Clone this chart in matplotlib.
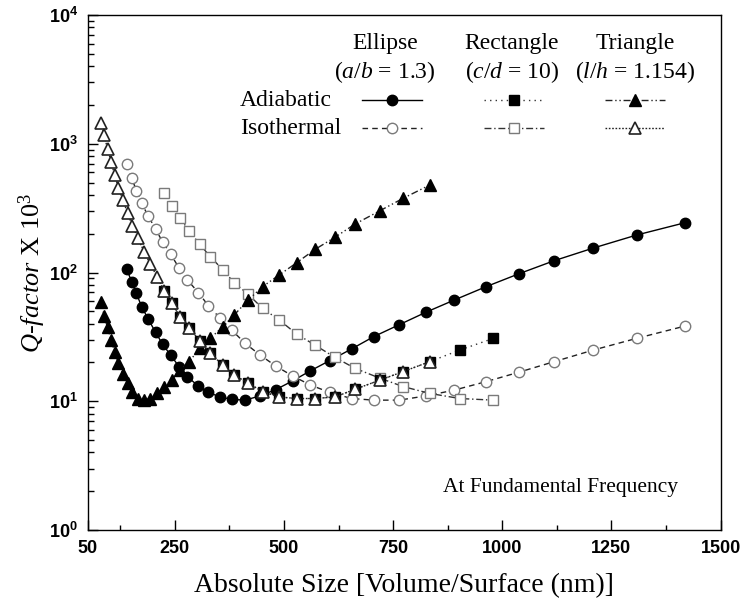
import matplotlib
matplotlib.use("Agg")
import matplotlib.pyplot as plt
from matplotlib.lines import Line2D
from matplotlib.ticker import FixedLocator, LogLocator, NullFormatter

plt.rcParams['font.family'] = ['Liberation Serif', 'DejaVu Serif']
plt.rcParams['mathtext.fontset'] = 'custom'
plt.rcParams['mathtext.rm'] = 'Liberation Serif'
plt.rcParams['mathtext.it'] = 'Liberation Serif:italic'
plt.rcParams['mathtext.bf'] = 'Liberation Sans:bold'

# absolute size V/S (nm) for each geometry
ell_x = [140, 151, 162, 174, 189, 206, 222, 241, 260, 279, 304, 327, 354, 380, 411, 445,
         481, 520, 560, 605, 655, 706, 764, 825, 890, 963, 1038, 1119, 1209, 1308, 1419]
tri_x = [82, 88, 96, 104, 112, 121, 131, 142, 153, 166, 180, 194, 210, 226, 243, 262,
         283, 307, 331, 360, 386, 418, 451, 489, 529, 571, 617, 663, 720, 773, 834]
rect_x = [226, 243, 262, 283, 307, 331, 360, 386, 418, 451, 489, 529, 571, 617, 663,
          720, 773, 834, 903, 980]

# Q-factor (x 10^3)
ell_adi = [106, 85.1, 68.7, 54.4, 43.5, 34.3, 27.7, 22.7, 18.5, 15.5, 13.1, 11.7, 10.8,
           10.35, 10.2, 11.0, 12.3, 14.4, 17.2, 20.7, 25.5, 31.8, 39.3, 49.1, 61.1, 77.6,
           97.7, 123.5, 155, 195.5, 243.7]
ell_iso = [692, 545, 432, 345, 275, 217, 173, 138, 108, 87.5, 69.7, 55.2, 44.1, 35.8,
           28.2, 22.9, 18.8, 15.7, 13.4, 11.7, 10.5, 10.2, 10.2, 11.0, 12.2, 14.2, 16.8,
           20.3, 25.0, 30.8, 38.4]
rect_adi = [72, 57.6, 45.4, 36.9, 29.6, 23.6, 19.1, 16.0, 13.8, 11.9, 10.8, 10.5, 10.5,
            10.8, 12.4, 14.6, 17.0, 20.3, 25.0, 30.8]
rect_iso = [417, 330, 264, 210, 166, 133, 105, 83.4, 67.7, 52.7, 42.8, 33.3, 27.3, 21.9,
            18.0, 15.1, 13.0, 11.5, 10.5, 10.2]
tri_adi = [59, 45.9, 37.4, 29.9, 24.3, 19.7, 16.3, 13.8, 11.9, 10.5, 10.2, 10.5, 11.5,
           13.0, 14.6, 17.5, 20.3, 25.8, 30.8, 37.9, 46.8, 61.1, 77.6, 95.6, 119, 151,
           188, 238, 302, 377, 478]
tri_iso = [1440, 1170, 910, 726, 572, 456, 366, 288, 230, 184, 144, 116, 92, 72, 57.6,
           45.4, 36.9, 29.6, 23.6, 19.1, 16.0, 13.8, 11.9, 10.8, 10.5, 10.5, 10.8, 12.4,
           14.6, 17.0, 20.3]

x_ticks = [50, 250, 500, 750, 1000, 1250, 1500]
x_minor = [125, 375, 625, 875, 1125, 1375]

grey = '#7a7a7a'
styles = {
    'ell_adi': dict(color='black', ls='-', lw=1.0, marker='o', ms=7.5, mfc='black', mec='black'),
    'ell_iso': dict(color='#222222', ls=(0, (4, 3)), lw=1.0, marker='o', ms=7.5, mfc='white', mec=grey, mew=1.0),
    'rect_adi': dict(color='#333333', ls=(0, (1, 3)), lw=1.0, marker='s', ms=6.5, mfc='black', mec='black'),
    'rect_iso': dict(color='#333333', ls=(0, (5, 2, 1, 2)), lw=1.0, marker='s', ms=6.5, mfc='white', mec=grey, mew=1.0),
    'tri_adi': dict(color='#222222', ls=(0, (5, 2, 1, 2, 1, 2)), lw=1.0, marker='^', ms=8.5, mfc='black', mec='black'),
    'tri_iso': dict(color='#222222', ls=(0, (1.2, 1.2)), lw=1.0, marker='^', ms=8.5, mfc='white', mec='#222222', mew=1.2),
}

fig = plt.figure(figsize=(7.43, 6.04), dpi=100)
ax = fig.add_axes([87.5 / 743, 1 - 530 / 604, 633 / 743, 515 / 604])

ax.plot(ell_x, ell_adi, **styles['ell_adi'], zorder=3)
ax.plot(ell_x, ell_iso, **styles['ell_iso'], zorder=3)
ax.plot(rect_x, rect_iso, **styles['rect_iso'], zorder=3)
ax.plot(rect_x, rect_adi, **styles['rect_adi'], zorder=4)
ax.plot(tri_x, tri_adi, **styles['tri_adi'], zorder=4)
ax.plot(tri_x, tri_iso, **styles['tri_iso'], zorder=5)

ax.set_yscale('log')
ax.set_ylim(1, 1e4)
ax.set_xlim(50, 1500)
ax.xaxis.set_major_locator(FixedLocator(x_ticks))
ax.xaxis.set_minor_locator(FixedLocator(x_minor))
ax.set_xticklabels([str(v) for v in x_ticks])
ax.yaxis.set_major_locator(FixedLocator([1, 10, 100, 1000, 10000]))
ax.set_yticklabels([r'$\mathbf{10^{%d}}$' % k for k in range(5)])
ax.yaxis.set_minor_locator(LogLocator(base=10, subs=range(2, 10)))
ax.yaxis.set_minor_formatter(NullFormatter())

ax.tick_params(which='both', direction='in', top=False, right=False, width=1.0)
ax.tick_params(which='major', length=7, pad=7)
ax.tick_params(axis='y', which='minor', length=4.5)
ax.tick_params(axis='x', which='minor', length=3.5)
for lab in ax.get_xticklabels():
    lab.set_family('Liberation Sans')
    lab.set_weight('bold')
    lab.set_fontsize(13)
for lab in ax.get_yticklabels():
    lab.set_fontsize(13)
for sp in ax.spines.values():
    sp.set_linewidth(1.0)

ax.set_xlabel('Absolute Size [Volume/Surface (nm)]', fontsize=20, labelpad=12)
ax.set_ylabel(r'$Q$-$factor$ X 10$^{3}$', fontsize=19)
ax.yaxis.set_label_coords(-0.062, 0.5)

ax.text(0.933, 0.083, 'At Fundamental Frequency', transform=ax.transAxes,
        ha='right', va='center', fontsize=15.5)

# legend table
def fx(px):
    return px / 743

def fy(py):
    return 1 - py / 604

headers = [('Ellipse', r'($a$/$b$ = 1.3)', 385),
           ('Rectangle', r'($c$/$d$ = 10)', 512),
           ('Triangle', r'($l$/$h$ = 1.154)', 635)]
for name, ratio, cx in headers:
    fig.text(fx(cx), fy(43), name, ha='center', va='center', fontsize=17)
    fig.text(fx(cx), fy(72), ratio, ha='center', va='center', fontsize=17)
fig.text(fx(240), fy(100), 'Adiabatic', ha='left', va='center', fontsize=17)
fig.text(fx(240), fy(128), 'Isothermal', ha='left', va='center', fontsize=17)

rows = [('ell_adi', 392, 100), ('rect_adi', 514, 100), ('tri_adi', 635, 100),
        ('ell_iso', 392, 128), ('rect_iso', 514, 128), ('tri_iso', 635, 128)]
for key, cx, cy in rows:
    st = dict(styles[key])
    fig.add_artist(Line2D([fx(cx - 30), fx(cx + 30)], [fy(cy), fy(cy)],
                          transform=fig.transFigure, color=st['color'], ls=st['ls'], lw=st['lw']))
    fig.add_artist(Line2D([fx(cx)], [fy(cy)], transform=fig.transFigure, ls='none',
                          marker=st['marker'], ms=st['ms'], mfc=st['mfc'], mec=st['mec'],
                          mew=st.get('mew', 1.0)))

fig.savefig('out.png', dpi=100)
